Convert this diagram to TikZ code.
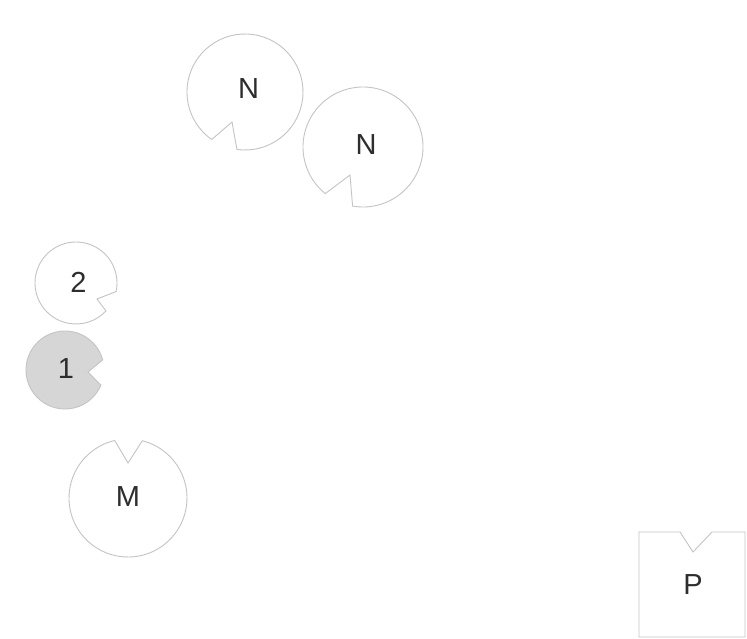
\documentclass[tikz,border=0pt]{standalone}
\usepackage{fontspec}
\setmainfont{Liberation Sans}
\definecolor{edgegray}{HTML}{C4C4C4}
\definecolor{fillgray}{HTML}{D6D6D6}
\definecolor{textgray}{HTML}{2E2E2E}
\begin{document}
\begin{tikzpicture}[x=1pt,y=1pt,
  piece/.style={draw=edgegray,line width=0.9pt,fill=white,line join=miter},
  darkpiece/.style={piece,fill=fillgray},
  lbl/.style={inner sep=0pt,text=textgray,font=\fontsize{29}{30}\selectfont}]
\useasboundingbox[fill=white] (0,0) rectangle (747,638);
% N (upper)
\draw[piece] (245,546) ++(262:58) arc[start angle=262,end angle=595,radius=58] -- (232,516) -- cycle;
\node[lbl] (n1) at (248.5,549) {N};
% N (lower)
\draw[piece] (363,491) ++(260:60) arc[start angle=260,end angle=591,radius=60] -- (350,463) -- cycle;
\node[lbl] (n2) at (366,493) {N};
% 2
\draw[piece] (76,355) ++(-12:41) arc[start angle=-12,end angle=317,radius=41] -- (97,339) -- cycle;
\node[lbl] (two) at (78.5,356) {2};
% 1
\draw[darkpiece] (65,268) ++(15:39) arc[start angle=15,end angle=337,radius=39] -- (88,266) -- cycle;
\node[lbl] (one) at (66,269.5) {1};
% M
\draw[piece] (128,140) ++(103:59) arc[start angle=103,end angle=436,radius=59] -- (128,175) -- cycle;
\node[lbl] (m) at (128,141) {M};
% P
\draw[piece] (639,1) -- (745,1) -- (745,106) -- (712,106) -- (693,86) -- (680,106) -- (639,106) -- cycle;
\node[lbl] (p) at (693,53) {P};
\end{tikzpicture}
\end{document}
